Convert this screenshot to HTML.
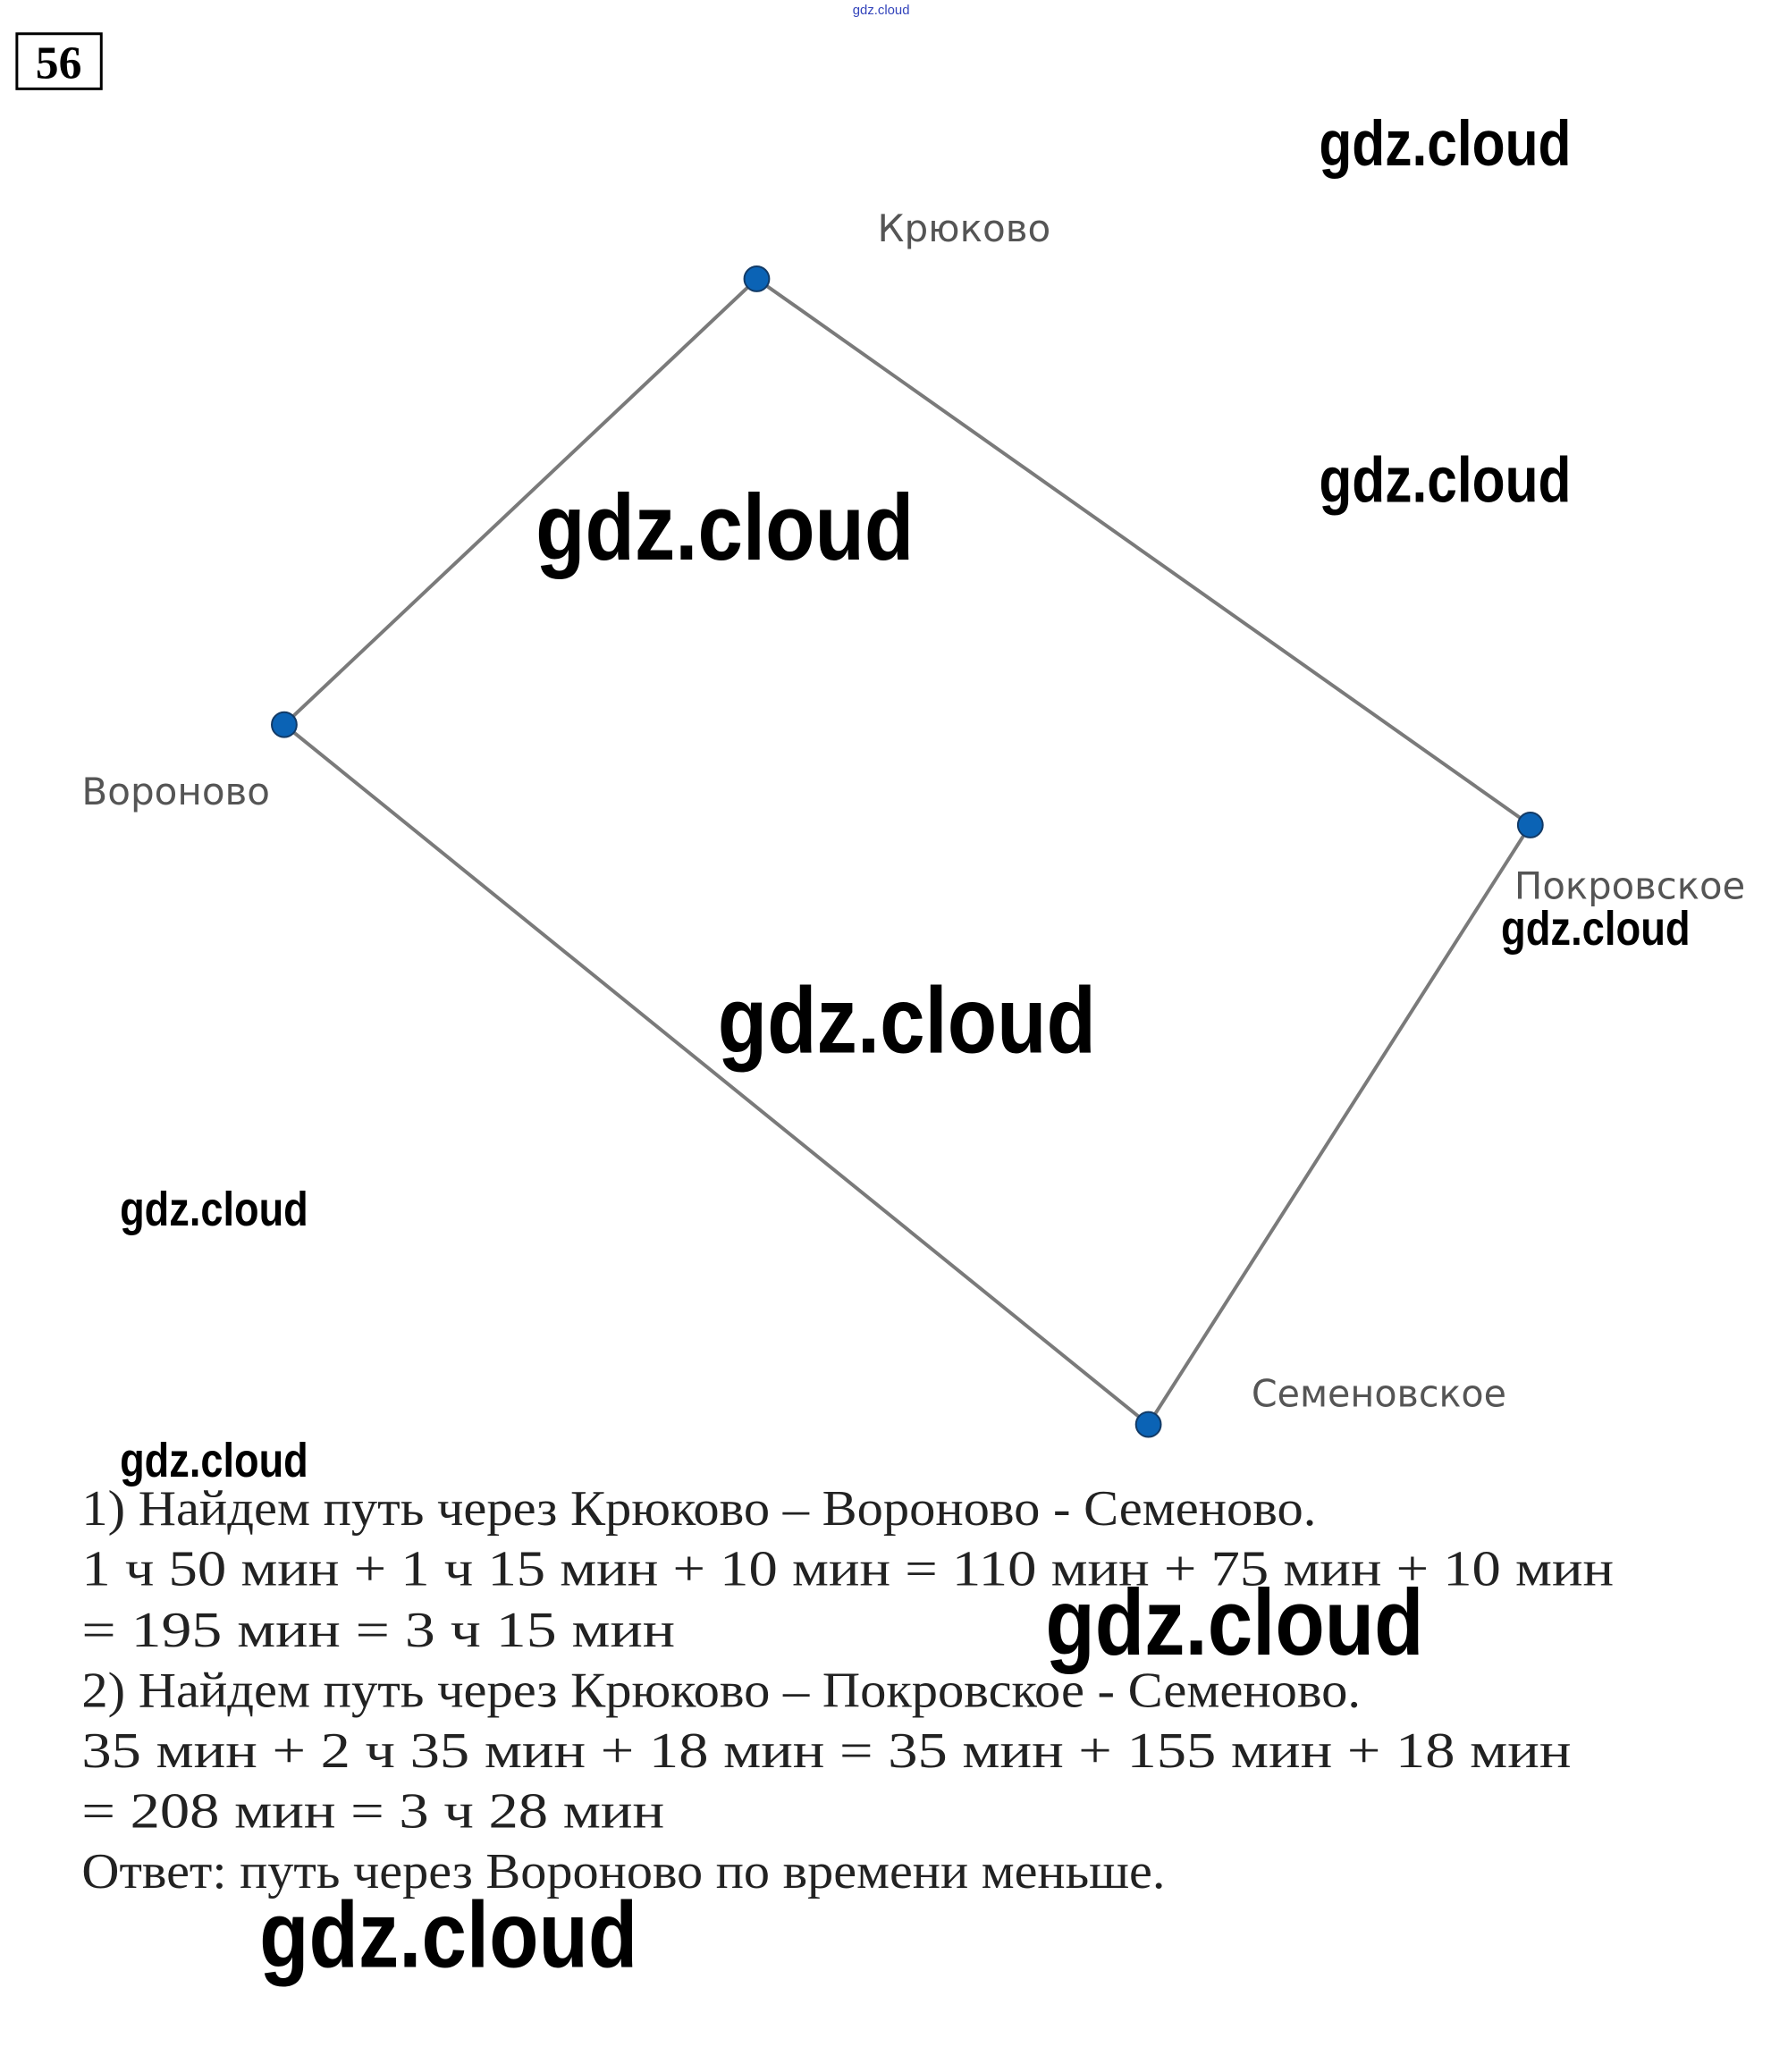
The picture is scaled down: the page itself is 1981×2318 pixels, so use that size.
<!DOCTYPE html>
<html><head><meta charset="utf-8"><style>
html,body{margin:0;padding:0;background:#fff}
svg{display:block}
</style></head><body>
<svg width="1981" height="2318" viewBox="0 0 1981 2318" xmlns="http://www.w3.org/2000/svg">
<g transform="scale(0.9935)">
<text x="960" y="16" font-family="Liberation Sans, sans-serif" font-size="15" fill="#3344bb">gdz.cloud</text>
<rect x="19" y="38" width="95" height="62" fill="none" stroke="#000" stroke-width="3"/>
<text x="66" y="88" text-anchor="middle" font-family="Liberation Serif, serif" font-weight="bold" font-size="52">56</text>
<g stroke="#7a7a7a" stroke-width="4" fill="none">
<line x1="852" y1="314" x2="320" y2="816"/>
<line x1="852" y1="314" x2="1723" y2="929"/>
<line x1="320" y1="816" x2="1293" y2="1604"/>
<line x1="1723" y1="929" x2="1293" y2="1604"/>
</g>
<g fill="#0b63b5" stroke="#123a66" stroke-width="2">
<circle cx="852" cy="314" r="14"/><circle cx="320" cy="816" r="14"/>
<circle cx="1723" cy="929" r="14"/><circle cx="1293" cy="1604" r="14"/>
</g>
<g font-family="DejaVu Sans, Liberation Sans, sans-serif" font-size="42" fill="#555">
<text x="988" y="272" textLength="195" lengthAdjust="spacingAndGlyphs">Крюково</text>
<text x="92" y="906" textLength="212" lengthAdjust="spacingAndGlyphs">Вороново</text>
<text x="1705" y="1012" textLength="260" lengthAdjust="spacingAndGlyphs">Покровское</text>
<text x="1409" y="1584" textLength="287" lengthAdjust="spacingAndGlyphs">Семеновское</text>
</g>
<g font-family="Liberation Sans, sans-serif" font-weight="bold" fill="#000">
<text x="1485" y="186" font-size="72" textLength="284" lengthAdjust="spacingAndGlyphs">gdz.cloud</text>
<text x="1485" y="565" font-size="72" textLength="284" lengthAdjust="spacingAndGlyphs">gdz.cloud</text>
<text x="603" y="630" font-size="106" textLength="426" lengthAdjust="spacingAndGlyphs">gdz.cloud</text>
<text x="1690" y="1064" font-size="54" textLength="213" lengthAdjust="spacingAndGlyphs">gdz.cloud</text>
<text x="808" y="1185" font-size="106" textLength="426" lengthAdjust="spacingAndGlyphs">gdz.cloud</text>
<text x="135" y="1380" font-size="54" textLength="212" lengthAdjust="spacingAndGlyphs">gdz.cloud</text>
<text x="135" y="1663" font-size="54" textLength="212" lengthAdjust="spacingAndGlyphs">gdz.cloud</text>
<text x="1177" y="1863" font-size="106" textLength="426" lengthAdjust="spacingAndGlyphs">gdz.cloud</text>
<text x="292" y="2215" font-size="106" textLength="426" lengthAdjust="spacingAndGlyphs">gdz.cloud</text>
</g>
<g font-family="Liberation Serif, serif" font-size="56" fill="#222">
<text x="92" y="1717" textLength="1390" lengthAdjust="spacingAndGlyphs">1) Найдем путь через Крюково – Вороново - Семеново.</text>
<text x="92" y="1785" textLength="1725" lengthAdjust="spacingAndGlyphs">1 ч 50 мин  +  1 ч 15 мин + 10 мин  = 110 мин + 75 мин + 10 мин</text>
<text x="92" y="1854" textLength="668" lengthAdjust="spacingAndGlyphs">=  195 мин  =  3 ч 15 мин</text>
<text x="92" y="1922" textLength="1440" lengthAdjust="spacingAndGlyphs">2) Найдем путь через Крюково – Покровское - Семеново.</text>
<text x="92" y="1990" textLength="1677" lengthAdjust="spacingAndGlyphs">35 мин  +  2 ч 35 мин  +  18 мин  =  35 мин + 155 мин + 18 мин</text>
<text x="92" y="2058" textLength="656" lengthAdjust="spacingAndGlyphs">= 208 мин  =  3 ч 28 мин</text>
<text x="92" y="2126" textLength="1220" lengthAdjust="spacingAndGlyphs">Ответ: путь через Вороново по времени меньше.</text>
</g>
</g>
</svg>
</body></html>
